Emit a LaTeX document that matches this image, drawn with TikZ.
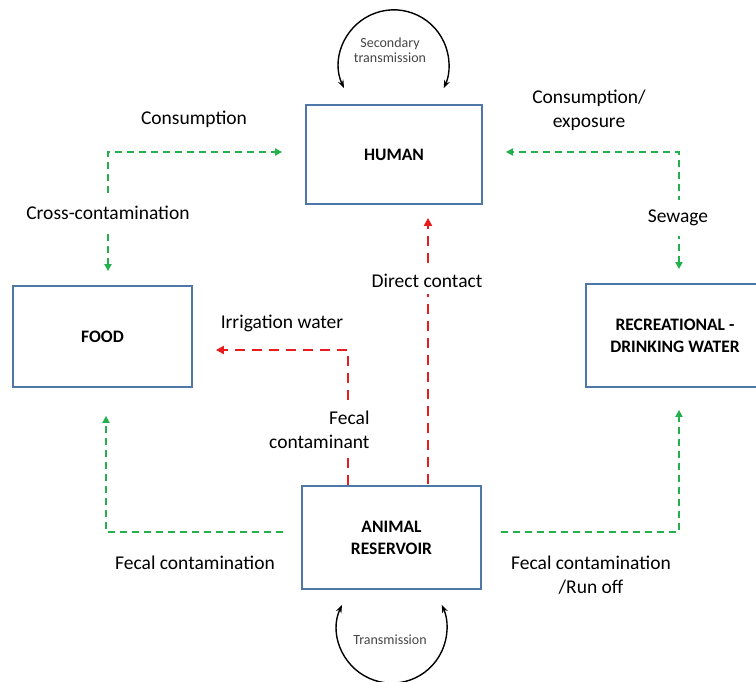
\documentclass[tikz,border=0pt]{standalone}
\usepackage{fontspec}
\setmainfont{Carlito}
\usepackage{xcolor}
\usepackage{tikz}
\usetikzlibrary{positioning,arrows.meta}
\definecolor{boxblue}{RGB}{79,119,168}
\definecolor{flowgreen}{RGB}{34,177,76}
\definecolor{flowred}{RGB}{232,28,28}
\definecolor{loopgray}{RGB}{70,70,70}

\begin{document}
\begin{tikzpicture}[x=1pt,y=1pt,
  host/.style={draw=boxblue,line width=1.8pt,align=center,
    font=\fontsize{17.5}{22}\selectfont\bfseries},
  greenflow/.style={flowgreen,line width=2.2pt,dash pattern=on 7pt off 5pt,
    arrows={-Triangle[length=7pt,width=7pt]}},
  redflow/.style={flowred,line width=2.4pt,dash pattern=on 10pt off 7pt,
    arrows={-Triangle[length=8pt,width=8pt]}},
  selfloop/.style={black,line width=1.4pt,
    {Stealth[length=8pt,width=6pt]}-{Stealth[length=8pt,width=6pt]}},
  lbl/.style={font=\fontsize{19.5}{24}\selectfont,align=center},
  small/.style={font=\fontsize{14}{15}\selectfont,text=loopgray,align=center}]
  \useasboundingbox (0,0) rectangle (756,681);
  % boxes
  \node[host,minimum width=176pt,minimum height=99pt] (human) at (394,526.5) {HUMAN};
  \node[host,minimum width=179pt,minimum height=101pt] (food) at (102.5,344.5) {FOOD};
  \node[host,minimum width=178pt,minimum height=103pt] (water) at (675,345.5) {RECREATIONAL -\\DRINKING WATER};
  \node[host,minimum width=179pt,minimum height=103pt] (animal) at (391.5,143.5) {ANIMAL\\RESERVOIR};
  % self loops
  \draw[selfloop] ([xshift=-50pt,yshift=16pt]human.north) arc[start angle=205,end angle=-25,radius=55pt];
  \node[small] (sectr) at (390,631) {Secondary\\transmission};
  \draw[selfloop] ([xshift=-49.5pt,yshift=-15pt]animal.south) arc[start angle=155,end angle=385,radius=55pt];
  \node[small] (tr) at (390,41) {Transmission};
  % green routes
  \draw[greenflow,{Triangle[length=7pt,width=7pt]}-{Triangle[length=7pt,width=7pt]}]
    ([xshift=5.5pt,yshift=14pt]food.north) |- ([xshift=-23pt,yshift=2.5pt]human.west);
  \node[lbl,fill=white,inner ysep=10pt] (cross) at (108,468) {Cross-contamination};
  \node[lbl] (cons) at (194,562) {Consumption};
  \draw[greenflow,{Triangle[length=7pt,width=7pt]}-{Triangle[length=7pt,width=7pt]}]
    ([xshift=4pt,yshift=14pt]water.north) |- ([xshift=23pt,yshift=2.5pt]human.east);
  \node[lbl,fill=white,inner ysep=10pt] (sew) at (678,463) {Sewage};
  \node[lbl] (consexp) at (589,571) {Consumption/\\exposure};
  \draw[greenflow] ([xshift=-18pt,yshift=5.5pt]animal.west) -| ([xshift=3.5pt,yshift=-28pt]food.south);
  \node[lbl] (fecl) at (195,118) {Fecal contamination};
  \draw[greenflow] ([xshift=19pt,yshift=5.5pt]animal.east) -| ([xshift=4pt,yshift=-22pt]water.south);
  \node[lbl] (fecr) at (591,106) {Fecal contamination\\/Run off};
  % red routes
  \draw[redflow] ([xshift=36.5pt,yshift=1pt]animal.north) -- ([xshift=34pt,yshift=-13pt]human.south);
  \node[lbl,fill=white,inner ysep=6pt] (direct) at (427,400) {Direct contact};
  \draw[redflow] ([xshift=-43.5pt]animal.north) |- ([xshift=23pt,yshift=-13.5pt]food.east);
  \node[lbl] (irr) at (282,358) {Irrigation water};
  \node[lbl,align=right,anchor=east,fill=white,inner ysep=8pt] (fecc) at (373,251) {Fecal\\contaminant};
\end{tikzpicture}
\end{document}
